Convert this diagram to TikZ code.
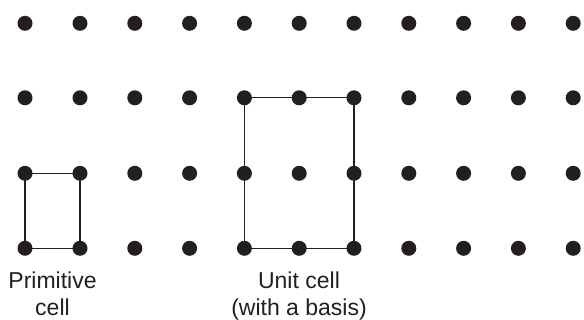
\documentclass[tikz,border=0pt]{standalone}
\usepackage{fontspec}
\setmainfont{Liberation Sans}
\usetikzlibrary{backgrounds}
\definecolor{ink}{HTML}{231F20}
\tikzset{
  dot/.style={circle,fill=ink,draw=none,minimum size=15pt,inner sep=0pt},
  cellline/.style={draw=ink,line width=1.1pt},
  lbl/.style={text=ink,align=center,anchor=base,inner sep=0pt,font=\fontsize{23}{26.5}\selectfont}
}
\begin{document}
\begin{tikzpicture}[x=1pt,y=-1pt]
\useasboundingbox (0,0) rectangle (584,320);
\foreach \i/\x in {1/25,2/80,3/134.8,4/189.6,5/244.4,6/299.2,7/354,8/408.8,9/463.6,10/518.4,11/573.2}{
  \foreach \j/\y in {1/23.3,2/97.8,3/173.3,4/248.3}{
    \node[dot] (d-\i-\j) at (\x,\y) {};
  }
}
\begin{scope}[on background layer]
\draw[cellline] (d-1-3.center) -- (d-2-3.center) -- (d-2-4.center) -- (d-1-4.center) -- cycle;
\draw[cellline] (d-5-2.center) -- (d-7-2.center) -- (d-7-4.center) -- (d-5-4.center) -- cycle;
\end{scope}
\node[lbl] (prim) at (52.5,315.5) {Primitive\\cell};
\node[lbl] (unit) at (299,315.5) {Unit cell\\(with a basis)};
\end{tikzpicture}
\end{document}
